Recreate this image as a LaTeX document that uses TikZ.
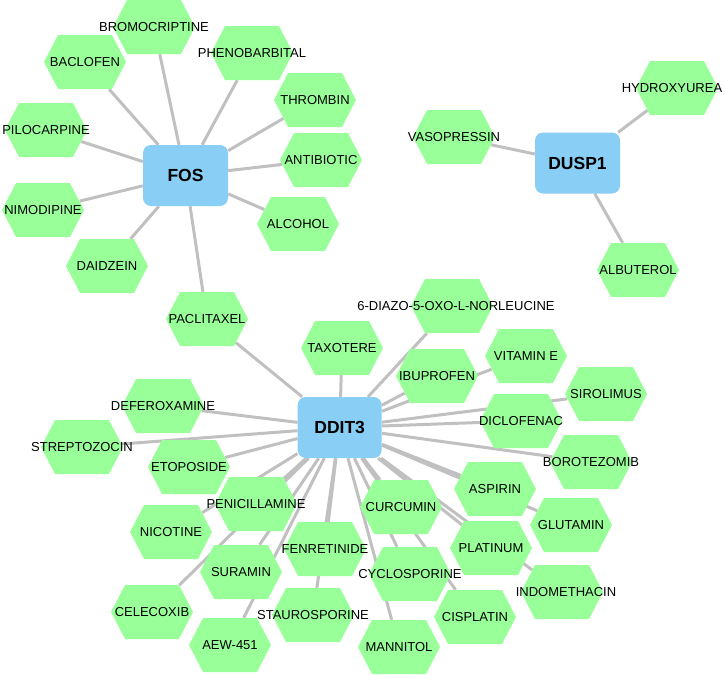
\documentclass[tikz,border=0pt]{standalone}
\usepackage{fontspec}
\setmainfont{Liberation Sans}
\usetikzlibrary{shapes.symbols,backgrounds}
\definecolor{genefill}{RGB}{137,207,245}
\definecolor{drugfill}{RGB}{153,255,153}
\definecolor{linkgray}{RGB}{192,192,192}

\begin{document}
\begin{tikzpicture}[x=1pt,y=-1pt]
	\tikzstyle{gene}=[rectangle,rounded corners=8pt,fill=genefill,minimum width=85pt,minimum height=61pt,font=\fontsize{17.5}{20}\selectfont\bfseries]
	\tikzstyle{drug}=[signal,signal to=west and east,signal pointer angle=125,fill=drugfill,minimum width=82pt,minimum height=54pt,inner sep=0pt]
	\tikzstyle{every label}=[inner sep=0pt,font=\fontsize{13}{15}\selectfont]
	\tikzstyle{link}=[line width=3pt,linkgray]
	\useasboundingbox (0,0) rectangle (724,675);
	% genes
	\node (fos)   at (185.5,175.5) [gene] {FOS};
	\node (dusp1) at (577.5,163)   [gene] {DUSP1};
	\node (ddit3) at (339.7,427.5) [gene,minimum width=84pt] {DDIT3};
	% drugs round FOS
	\node (bromocriptine) at (154,27)  [drug,label=center:BROMOCRIPTINE] {};
	\node (baclofen)      at (85,62)   [drug,label=center:BACLOFEN] {};
	\node (phenobarbital) at (252,53)  [drug,label=center:PHENOBARBITAL] {};
	\node (thrombin)      at (315,100) [drug,label=center:THROMBIN] {};
	\node (pilocarpine)   at (46,130)  [drug,label=center:PILOCARPINE] {};
	\node (antibiotic)    at (321,160) [drug,label=center:ANTIBIOTIC] {};
	\node (nimodipine)    at (43,210)  [drug,label=center:NIMODIPINE] {};
	\node (alcohol)       at (298,224) [drug,label=center:ALCOHOL] {};
	\node (daidzein)      at (107,266) [drug,label=center:DAIDZEIN] {};
	\node (paclitaxel)    at (207,319) [drug,label=center:PACLITAXEL] {};
	% drugs round DUSP1
	\node (vasopressin) at (454,137) [drug,label=center:VASOPRESSIN] {};
	\node (hydroxyurea) at (677,88)  [drug,label={[xshift=-5pt]center:HYDROXYUREA}] {};
	\node (albuterol)   at (638,270) [drug,label=center:ALBUTEROL] {};
	% drugs round DDIT3
	\node (diazo)         at (452,306) [drug,label={[xshift=4pt]center:6-DIAZO-5-OXO-L-NORLEUCINE}] {};
	\node (taxotere)      at (342,348) [drug,label=center:TAXOTERE] {};
	\node (ibuprofen)     at (437,376) [drug,label=center:IBUPROFEN] {};
	\node (vitamine)      at (526,356) [drug,label=center:VITAMIN E] {};
	\node (deferoxamine)  at (163,406) [drug,label=center:DEFEROXAMINE] {};
	\node (diclofenac)    at (521,421) [drug,label=center:DICLOFENAC] {};
	\node (sirolimus)     at (606,394) [drug,label=center:SIROLIMUS] {};
	\node (borotezomib)   at (591,462) [drug,label=center:BOROTEZOMIB] {};
	\node (streptozocin)  at (82,447)  [drug,label=center:STREPTOZOCIN] {};
	\node (etoposide)     at (189,467) [drug,label=center:ETOPOSIDE] {};
	\node (aspirin)       at (495,489) [drug,label=center:ASPIRIN] {};
	\node (glutamin)      at (571,525) [drug,label=center:GLUTAMIN] {};
	\node (platinum)      at (491,548) [drug,label=center:PLATINUM] {};
	\node (indomethacin)  at (562,592) [drug,label={[xshift=4pt]center:INDOMETHACIN}] {};
	\node (penicillamine) at (256,504) [drug,label=center:PENICILLAMINE] {};
	\node (nicotine)      at (171,532) [drug,label=center:NICOTINE] {};
	\node (curcumin)      at (401,507) [drug,label=center:CURCUMIN] {};
	\node (fenretinide)   at (325,549) [drug,label=center:FENRETINIDE] {};
	\node (suramin)       at (241,572) [drug,label=center:SURAMIN] {};
	\node (cyclosporine)  at (410,574) [drug,label=center:CYCLOSPORINE] {};
	\node (celecoxib)     at (152,612) [drug,label=center:CELECOXIB] {};
	\node (staurosporine) at (313,615) [drug,label=center:STAUROSPORINE] {};
	\node (aew)           at (230,645) [drug,label=center:AEW-451] {};
	\node (mannitol)      at (399,647) [drug,label=center:MANNITOL] {};
	\node (cisplatin)     at (475,617) [drug,label=center:CISPLATIN] {};
	\begin{pgfonlayer}{background}
	\draw [link] (fos) -- (bromocriptine);
	\draw [link] (fos) -- (baclofen);
	\draw [link] (fos) -- (phenobarbital);
	\draw [link] (fos) -- (thrombin);
	\draw [link] (fos) -- (pilocarpine);
	\draw [link] (fos) -- (antibiotic);
	\draw [link] (fos) -- (nimodipine);
	\draw [link] (fos) -- (alcohol);
	\draw [link] (fos) -- (daidzein);
	\draw [link] (fos) -- (paclitaxel);
	\draw [link] (dusp1) -- (vasopressin);
	\draw [link] (dusp1) -- (hydroxyurea);
	\draw [link] (dusp1) -- (albuterol);
	\draw [link] (ddit3) -- (paclitaxel);
	\draw [link] (ddit3) -- (diazo);
	\draw [link] (ddit3) -- (taxotere);
	\draw [link] (ddit3) -- (ibuprofen);
	\draw [link] (ddit3) -- (vitamine);
	\draw [link] (ddit3) -- (deferoxamine);
	\draw [link] (ddit3) -- (diclofenac);
	\draw [link] (ddit3) -- (sirolimus);
	\draw [link] (ddit3) -- (borotezomib);
	\draw [link] (ddit3) -- (streptozocin);
	\draw [link] (ddit3) -- (etoposide);
	\draw [link] (ddit3) -- (aspirin);
	\draw [link] (ddit3) -- (glutamin);
	\draw [link] (ddit3) -- (platinum);
	\draw [link] (ddit3) -- (indomethacin);
	\draw [link] (ddit3) -- (penicillamine);
	\draw [link] (ddit3) -- (nicotine);
	\draw [link] (ddit3) -- (curcumin);
	\draw [link] (ddit3) -- (fenretinide);
	\draw [link] (ddit3) -- (suramin);
	\draw [link] (ddit3) -- (cyclosporine);
	\draw [link] (ddit3) -- (celecoxib);
	\draw [link] (ddit3) -- (staurosporine);
	\draw [link] (ddit3) -- (aew);
	\draw [link] (ddit3) -- (mannitol);
	\draw [link] (ddit3) -- (cisplatin);
	\end{pgfonlayer}
\end{tikzpicture}
\end{document}
